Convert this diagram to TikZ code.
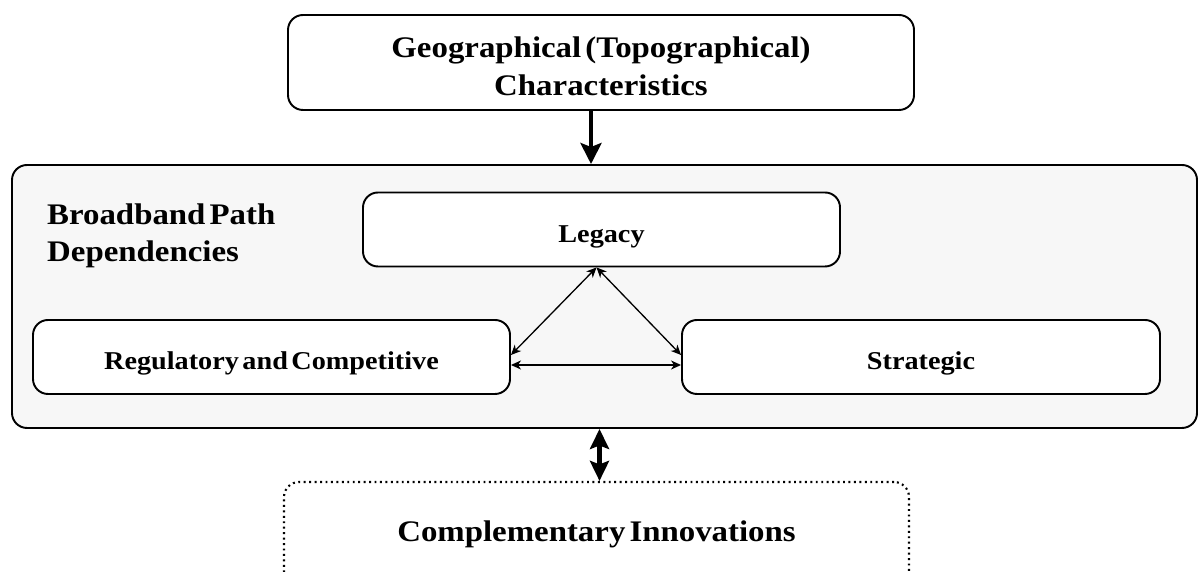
\documentclass[tikz,border=0pt]{standalone}
\usepackage{fontspec}
\setmainfont{Liberation Serif}[FakeStretch=1.1, WordSpace=0.5]
\usepackage{tikz}
\usetikzlibrary{arrows}
\usetikzlibrary{arrows.meta}
\usetikzlibrary{positioning}
\tikzset{inv/.style={opacity=0}}

\begin{document}
\begin{tikzpicture}
\useasboundingbox (0, 0) rectangle (23.96, 11.44);
\tikzstyle{box} = [draw=black, line width=1.1pt, rounded corners=0.3cm, fill=white, align=center, font=\bfseries]
\tikzstyle{inner} = [box, minimum width=9.54cm, minimum height=1.48cm, text height=0.6cm, font=\bfseries\fontsize{14.6}{17}\selectfont]
\tikzstyle{thin} = [{Stealth[length=0.2cm, width=0.18cm, inset=0.06cm]}-{Stealth[length=0.2cm, width=0.18cm, inset=0.06cm]}, line width=0.75pt]
\tikzstyle{thick} = [line width=2.6pt]

\node[box, minimum width=12.52cm, minimum height=1.9cm](geo) at (12.02, 10.19){};
\node[align=center, font=\bfseries\fontsize{17}{21.5}\selectfont](geotext) at ([yshift=-0.08cm]geo.center){Geographical (Topographical)\\Characteristics};
\node[box, fill=black!3, minimum width=23.7cm, minimum height=5.26cm](path) at (12.09, 5.51){};
\node[anchor=west, align=left, font=\bfseries\fontsize{17}{21}\selectfont](lbl) at (0.82, 6.72){Broadband Path\\Dependencies};

\node[inner, text height=0.62cm](legacy) at (12.03, 6.85){Legacy};
\node[inner](reg) at (5.43, 4.30){Regulatory and Competitive};
\node[inner, minimum width=9.56cm](strat) at (18.42, 4.30){Strategic};

\node[box, dotted, line width=1.2pt, minimum width=12.5cm, minimum height=2.08cm, font=\bfseries\fontsize{17}{21}\selectfont](comp) at (11.93, 0.76){Complementary Innovations};

\draw[thick, -{Stealth[length=0.42cm, width=0.42cm, inset=0.08cm]}] ([xshift=-0.2cm]geo.south) -- ([xshift=-0.2cm]geo.south |- path.north);
\draw[thick, line width=2.4pt, {Stealth[length=0.4cm, width=0.38cm, inset=0.07cm]}-{Stealth[length=0.4cm, width=0.38cm, inset=0.07cm]}] ([xshift=-0.1cm]path.south) -- ([xshift=-0.1cm]path.south |- comp.north);

\draw[thin] ([xshift=-0.1cm]legacy.south) -- ([yshift=0.04cm]reg.east);
\draw[thin] ([xshift=-0.1cm]legacy.south) -- ([yshift=0.04cm]strat.west);
\draw[thin] ([yshift=-0.16cm]reg.east) -- ([yshift=-0.16cm]strat.west);
\end{tikzpicture}
\end{document}
